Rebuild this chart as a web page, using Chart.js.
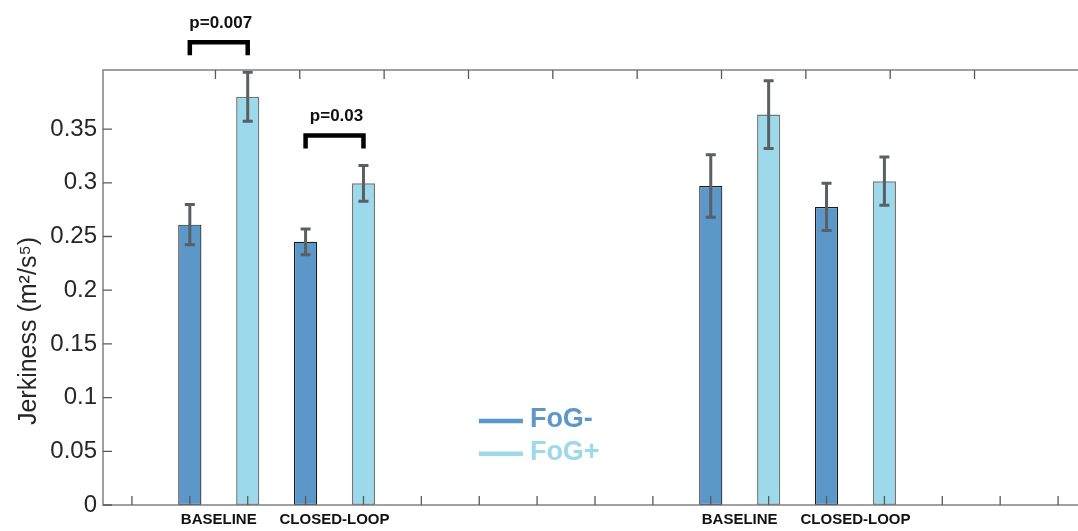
<!DOCTYPE html>
<html>
<head>
<meta charset="utf-8">
<script src="https://cdn.jsdelivr.net/npm/chart.js@4.4.1/dist/chart.umd.min.js"></script>
<style>
  html, body { margin: 0; padding: 0; background: #fff; overflow: hidden; }
  #wrap { width: 1100px; height: 531px; }
</style>
</head>
<body>
<div id="wrap"><canvas id="jerk-chart" width="1100" height="531"></canvas></div>
<script>
// conditions, two sessions side by side
const groups = ['BASELINE', 'CLOSED-LOOP', 'BASELINE', 'CLOSED-LOOP'];
// x slot of each FoG- bar; the FoG+ bar sits in the next slot
const slots = [1, 3, 10, 12];

const fogMinus = [0.261, 0.245, 0.297, 0.2775];
const fogMinusErr = [0.0187, 0.012, 0.029, 0.022];
const fogPlus = [0.380, 0.2995, 0.3635, 0.3015];
const fogPlusErr = [0.0228, 0.0167, 0.0315, 0.0225];

// significance brackets: label and which condition they sit over
const pLabels = ['p=0.007', 'p=0.03'];
const pGroups = [0, 1];

const yMax = 0.405;
const yStep = 0.05;
const yLastTick = 0.35;
const xSlots = 17;    // bottom axis tick count
const topSlots = 10;  // top axis tick count

const axisColor = '#808080';
const tickColor = '#5a5a5a';

const matlabFrame = {
  id: 'matlabFrame',
  afterDatasetsDraw(chart) {
    const ctx = chart.ctx, a = chart.chartArea;
    const x = chart.scales.x, x2 = chart.scales.x2, y = chart.scales.y;
    const w = a.right - a.left, h = a.bottom - a.top;
    ctx.save();

    // error bars
    ctx.strokeStyle = '#5a5f63';
    ctx.lineWidth = 3;
    chart.data.datasets.forEach((ds, di) => {
      chart.getDatasetMeta(di).data.forEach((bar, i) => {
        const v = ds.data[i].y, e = ds.errors[i];
        const yt = y.getPixelForValue(v + e), yb = y.getPixelForValue(v - e);
        ctx.beginPath();
        ctx.moveTo(bar.x, yt); ctx.lineTo(bar.x, yb);
        ctx.moveTo(bar.x - 5, yt); ctx.lineTo(bar.x + 5, yt);
        ctx.moveTo(bar.x - 5, yb); ctx.lineTo(bar.x + 5, yb);
        ctx.stroke();
      });
    });

    // box
    ctx.strokeStyle = axisColor;
    ctx.lineWidth = 1.5;
    ctx.strokeRect(a.left, a.top, w, h);

    // inward ticks
    ctx.strokeStyle = tickColor;
    ctx.lineWidth = 1.3;
    ctx.beginPath();
    for (let i = 0; i < xSlots; i++) {
      const px = x.getPixelForValue(i);
      ctx.moveTo(px, a.bottom); ctx.lineTo(px, a.bottom - 9);
    }
    for (let i = 0; i < topSlots; i++) {
      const px = x2.getPixelForValue(i);
      ctx.moveTo(px, a.top); ctx.lineTo(px, a.top + 9);
    }
    y.ticks.forEach(t => {
      const py = y.getPixelForValue(t.value);
      ctx.moveTo(a.left, py); ctx.lineTo(a.left + 9, py);
      ctx.moveTo(a.right, py); ctx.lineTo(a.right - 9, py);
    });
    ctx.stroke();

    // condition labels under each pair
    ctx.fillStyle = '#111';
    ctx.font = 'bold 15px "Liberation Sans", Arial, sans-serif';
    ctx.textAlign = 'center';
    ctx.textBaseline = 'top';
    groups.forEach((g, i) => {
      const cx = (x.getPixelForValue(slots[i]) + x.getPixelForValue(slots[i] + 1)) / 2;
      ctx.fillText(g, cx, a.bottom + 7);
    });

    // significance brackets
    ctx.strokeStyle = '#000';
    ctx.lineWidth = 4.5;
    ctx.lineJoin = 'miter';
    ctx.font = 'bold 17px "Liberation Sans", Arial, sans-serif';
    ctx.textBaseline = 'alphabetic';
    pLabels.forEach((lab, k) => {
      const g = pGroups[k];
      const xl = x.getPixelForValue(slots[g]), xr = x.getPixelForValue(slots[g] + 1);
      const hi = Math.max(fogMinus[g] + fogMinusErr[g], fogPlus[g] + fogPlusErr[g]);
      const top = y.getPixelForValue(hi) - 30;
      ctx.beginPath();
      ctx.moveTo(xl, top + 13); ctx.lineTo(xl, top); ctx.lineTo(xr, top); ctx.lineTo(xr, top + 13);
      ctx.stroke();
      ctx.fillText(lab, (xl + xr) / 2 + 2, top - 14);
    });

    // legend inside the axes
    const lx = a.left + 0.382 * w, ly = a.top + 0.807 * h;
    ctx.font = 'bold 27px "Liberation Sans", Arial, sans-serif';
    ctx.textAlign = 'left';
    ctx.textBaseline = 'middle';
    chart.data.datasets.forEach((ds, di) => {
      const yy = ly + di * 32.6;
      ctx.strokeStyle = ds.backgroundColor;
      ctx.lineWidth = 4.5;
      ctx.beginPath();
      ctx.moveTo(lx, yy); ctx.lineTo(lx + 44, yy);
      ctx.stroke();
      ctx.fillStyle = ds.backgroundColor;
      ctx.fillText(ds.label, lx + 51, yy - 1);
    });

    // y axis title
    ctx.fillStyle = '#262626';
    ctx.font = '25px "Liberation Sans", Arial, sans-serif';
    ctx.textAlign = 'center';
    ctx.textBaseline = 'middle';
    ctx.translate(29, a.top + 0.6 * h);
    ctx.rotate(-Math.PI / 2);
    ctx.fillText('Jerkiness (m\u00B2/s\u2075)', 0, 0);

    ctx.restore();
  }
};

const toPoints = (vals, offset) => vals.map((v, i) => ({ x: slots[i] + offset, y: v }));

new Chart(document.getElementById('jerk-chart'), {
  type: 'bar',
  data: {
    datasets: [
      {
        label: 'FoG-',
        data: toPoints(fogMinus, 0),
        errors: fogMinusErr,
        backgroundColor: '#5b97c9',
        borderColor: '#1a1a1a',
        borderWidth: 1.2,
        borderSkipped: false
      },
      {
        label: 'FoG+',
        data: toPoints(fogPlus, 1),
        errors: fogPlusErr,
        backgroundColor: '#9cd9ea',
        borderColor: '#6b777b',
        borderWidth: 1.5,
        borderSkipped: false
      }
    ]
  },
  options: {
    responsive: false,
    animation: false,
    grouped: false,
    barPercentage: 0.4,
    categoryPercentage: 1,
    layout: { padding: { top: 70, right: 13, left: 0, bottom: 0 } },
    plugins: {
      legend: { display: false },
      tooltip: { enabled: false }
    },
    scales: {
      x: {
        type: 'linear',
        min: -0.5,
        max: xSlots - 0.5,
        offset: false,
        ticks: { display: false, stepSize: 1 },
        grid: { display: false, drawTicks: false },
        border: { display: false },
        afterFit(s) { s.height = 26; }
      },
      x2: {
        type: 'linear',
        position: 'top',
        display: false,
        min: -0.5,
        max: topSlots - 0.5
      },
      y: {
        min: 0,
        max: yMax,
        ticks: {
          stepSize: yStep,
          includeBounds: false,
          padding: 6,
          color: '#262626',
          font: { family: '"Liberation Sans", Arial, sans-serif', size: 24 },
          callback: v => String(+v.toFixed(2))
        },
        afterBuildTicks(s) {
          s.ticks = s.ticks.filter(t => t.value <= yLastTick + 1e-9);
        },
        grid: { display: false, drawTicks: false },
        border: { display: false },
        afterFit(s) { s.width = 103; }
      }
    }
  },
  plugins: [matlabFrame]
});
</script>
</body>
</html>
